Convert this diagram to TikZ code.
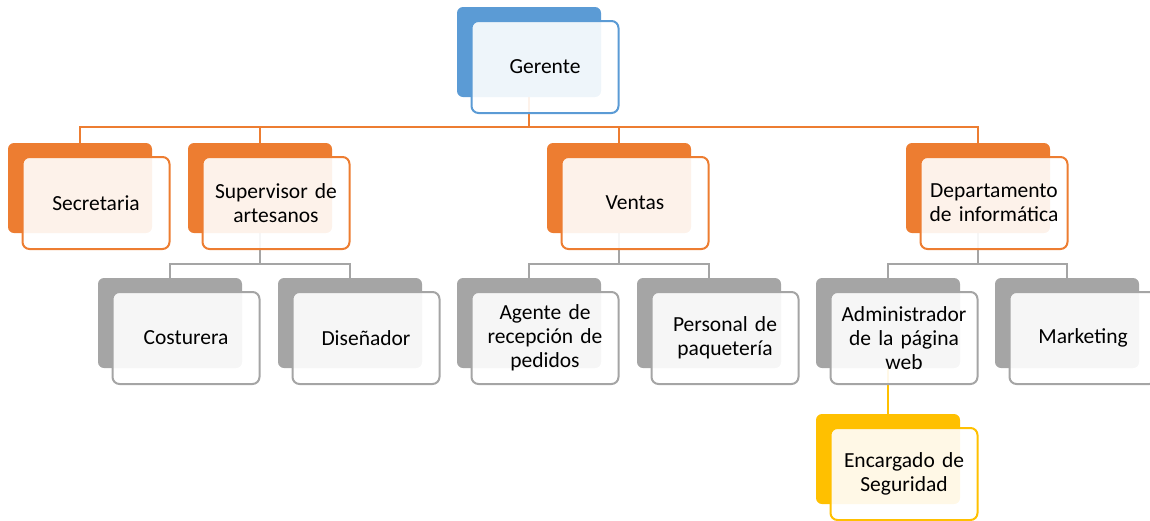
\documentclass[tikz,border=0pt]{standalone}
\usepackage{fontspec}
\setmainfont{Carlito}[WordSpace={0.85,0,0}]
\usetikzlibrary{backgrounds}
\definecolor{cblue}{HTML}{5B9BD5}
\definecolor{corange}{HTML}{ED7D31}
\definecolor{cgray}{HTML}{A5A5A5}
\definecolor{cyellow}{HTML}{FFC000}
\tikzset{
 backbox/.style={rectangle, rounded corners=6pt, fill=#1, minimum width=144pt, minimum height=90pt, inner sep=0pt},
 frontbox/.style={rectangle, rounded corners=7pt, draw=#1, line width=2pt, fill=white, fill opacity=0.9, text opacity=1, minimum width=147pt, minimum height=92pt, text width=144pt, align=center, inner sep=0pt, font=\fontsize{21.5}{24}\selectfont},
 conn/.style={line width=2pt, draw=#1},
}
\newcommand\orgunit[5]{%
 \node[backbox=#4] (#1) at (#2,#3) {};
 \node[frontbox=#4] (#1f) at ([xshift=16pt,yshift=-15pt]#1.center) {#5};
}
\begin{document}
\begin{tikzpicture}[x=1pt,y=-1pt]
\useasboundingbox (0,0) rectangle (1150,520);
\orgunit{g}{529}{52}{cblue}{Gerente}
\orgunit{sec}{80}{188}{corange}{Secretaria}
\orgunit{sup}{260}{188}{corange}{Supervisor de\\artesanos}
\orgunit{ven}{619}{188}{corange}{Ventas}
\orgunit{dep}{978}{188}{corange}{Departamento\\de informática}
\orgunit{cos}{170}{323}{cgray}{Costurera}
\orgunit{dis}{350}{323}{cgray}{Diseñador}
\orgunit{age}{529}{323}{cgray}{Agente de\\recepción de\\pedidos}
\orgunit{per}{709}{323}{cgray}{Personal de\\paquetería}
\orgunit{adm}{888}{323}{cgray}{Administrador\\de la página\\web}
\orgunit{mar}{1067}{323}{cgray}{Marketing}
\orgunit{enc}{888}{459}{cyellow}{Encargado de\\Seguridad}
\begin{scope}[on background layer]
\coordinate (b1) at (0,127);
\coordinate (b2) at (0,264);
\draw[conn=corange] (g.south) -- (g.south |- b1) -| (sec.north);
\draw[conn=corange] (g.south |- b1) -| (sup.north);
\draw[conn=corange] (g.south |- b1) -| (ven.north);
\draw[conn=corange] (g.south |- b1) -| (dep.north);
\draw[conn=cgray] (sup.south) -- (sup.south |- b2) -| (cos.north);
\draw[conn=cgray] (sup.south |- b2) -| (dis.north);
\draw[conn=cgray] (ven.south) -- (ven.south |- b2) -| (age.north);
\draw[conn=cgray] (ven.south |- b2) -| (per.north);
\draw[conn=cgray] (dep.south) -- (dep.south |- b2) -| (adm.north);
\draw[conn=cgray] (dep.south |- b2) -| (mar.north);
\draw[conn=cyellow] (adm.south) -- (enc.north);
\end{scope}
\end{tikzpicture}
\end{document}
